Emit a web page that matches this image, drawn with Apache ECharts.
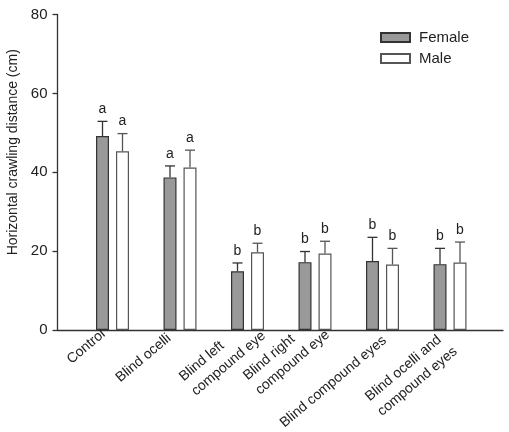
<!DOCTYPE html>
<html>
<head>
<meta charset="utf-8">
<script src="https://cdn.jsdelivr.net/npm/echarts@6/dist/echarts.min.js"></script>
<style>
html,body{margin:0;padding:0;background:#fff;}
#chart{width:509px;height:432px;}
</style>
</head>
<body>
<div id="chart"></div>
<script>
// ---- data ----
const categories = ['Control', 'Blind ocelli', 'Blind left\ncompound eye', 'Blind right\ncompound eye', 'Blind compound eyes', 'Blind ocelli and\ncompound eyes'];
const femaleValues = [49.2, 38.7, 14.9, 17.2, 17.5, 16.7];
const femaleErrors = [3.7, 2.9, 2.1, 2.7, 6.0, 4.0];
const femaleLetters = ['a', 'a', 'b', 'b', 'b', 'b'];
const maleValues = [45.3, 41.2, 19.7, 19.4, 16.6, 17.1];
const maleErrors = [4.5, 4.4, 2.3, 3.1, 4.1, 5.2];
const maleLetters = ['a', 'a', 'b', 'b', 'b', 'b'];
const yTicks = [0, 20, 40, 60, 80];

// ---- layout / style (not data) ----
const labelShiftAlong = [-31, -46, -36, -38, -71, -58];
const labelShiftPerp = [-4, -2, 4, 1, 8, 9];
const BAR_W = 14, BAR_GAP = 6;
const OFFSET = (BAR_W + BAR_GAP) / 2;
const FONT = 'Liberation Sans, Arial, sans-serif';
const TXT = '#222';

function padFor(i) {
  const a = labelShiftAlong[i], b = labelShiftPerp[i];
  const pr = a < 0 ? -2 * a : 0, pl = a > 0 ? 2 * a : 0;
  const pt = b > 0 ? 2 * b : 0, pb = b < 0 ? -2 * b : 0;
  return [pt, pr, pb, pl];
}

const catData = categories.map((c, i) => ({
  value: c,
  textStyle: { padding: padFor(i), align: 'center', verticalAlign: 'middle' }
}));

function errSeries(name, values, errors, letters, sign, color) {
  return {
    type: 'custom',
    name: name + ' err',
    xAxisIndex: 1, yAxisIndex: 1,
    z: 5,
    silent: true,
    data: values.map((v, i) => [i, v, v + errors[i]]),
    renderItem: function (params, api) {
      const base = api.coord([api.value(0), api.value(1)]);
      const top = api.coord([api.value(0), api.value(2)]);
      const x = base[0] + sign * OFFSET;
      const capHalf = 5;
      return {
        type: 'group',
        children: [
          { type: 'line', shape: { x1: x, y1: base[1], x2: x, y2: top[1] }, style: { stroke: color, lineWidth: 1.3 } },
          { type: 'line', shape: { x1: x - capHalf, y1: top[1], x2: x + capHalf, y2: top[1] }, style: { stroke: color, lineWidth: 1.3 } },
          { type: 'text', x: x, y: top[1] - 5, style: { text: letters[params.dataIndex], fontSize: 14, fontFamily: FONT, fill: TXT, align: 'center', verticalAlign: 'bottom' } }
        ]
      };
    }
  };
}

const chart = echarts.init(document.getElementById('chart'), null, { renderer: 'canvas' });
chart.setOption({
  animation: false,
  backgroundColor: '#fff',
  legend: {
    orient: 'vertical',
    left: 380, top: 30,
    itemWidth: 29, itemHeight: 9, itemGap: 6,
    padding: 0,
    icon: 'rect',
    data: ['Female', 'Male'],
    textStyle: { fontSize: 15, fontFamily: FONT, color: TXT, padding: [0, 0, 0, 4] }
  },
  grid: [
    { left: 57.5, right: 6, top: 14.5, bottom: 102, containLabel: false, outerBoundsMode: 'none' },
    { left: 78.75, width: 405, top: 14.5, bottom: 102, containLabel: false, outerBoundsMode: 'none' }
  ],
  xAxis: [
    { type: 'value', gridIndex: 0, min: 0, max: 1, axisLine: { show: true, lineStyle: { color: '#333', width: 1.3 } }, axisTick: { show: false }, axisLabel: { show: false }, splitLine: { show: false } },
    {
      type: 'category', gridIndex: 1, data: catData,
      axisLine: { show: false }, axisTick: { show: false }, splitLine: { show: false },
      axisLabel: {
        interval: 0, rotate: 40, margin: 0, align: 'center', verticalAlign: 'middle',
        hideOverlap: false,
        fontSize: 14, fontFamily: FONT, color: TXT,
        formatter: v => v.split('\n').map(s => '{l|' + s + '}').join('\n'),
        rich: { l: { align: 'left', fontSize: 14, lineHeight: 19, fontFamily: FONT, color: TXT } }
      }
    }
  ],
  yAxis: [
    {
      type: 'value', gridIndex: 0, min: yTicks[0], max: yTicks[yTicks.length - 1], interval: 20,
      axisLine: { show: true, lineStyle: { color: '#333', width: 1.3 } },
      axisTick: { show: true, inside: false, length: 5, lineStyle: { color: '#333', width: 1.3 } },
      axisLabel: { margin: 10, fontSize: 15, fontFamily: FONT, color: TXT },
      splitLine: { show: false },
      name: 'Horizontal crawling distance (cm)',
      nameLocation: 'middle', nameGap: 34, nameRotate: 90,
      nameTextStyle: { fontSize: 14, fontFamily: FONT, color: TXT, padding: [0, 0, 0, 40] }
    },
    { type: 'value', gridIndex: 1, min: 0, max: 80, show: false }
  ],
  series: [
    {
      name: 'Female', type: 'bar', xAxisIndex: 1, yAxisIndex: 1,
      data: femaleValues, barWidth: BAR_W - 1, barGap: (BAR_GAP + 1) / (BAR_W - 1) * 100 + '%',
      itemStyle: { color: '#999999', borderColor: '#333333', borderWidth: 1.2 }
    },
    {
      name: 'Male', type: 'bar', xAxisIndex: 1, yAxisIndex: 1,
      data: maleValues, barWidth: BAR_W - 1,
      itemStyle: { color: '#ffffff', borderColor: '#555555', borderWidth: 1.2 }
    },
    errSeries('Female', femaleValues, femaleErrors, femaleLetters, -1, '#333333'),
    errSeries('Male', maleValues, maleErrors, maleLetters, 1, '#555555')
  ]
});
</script>
</body>
</html>
